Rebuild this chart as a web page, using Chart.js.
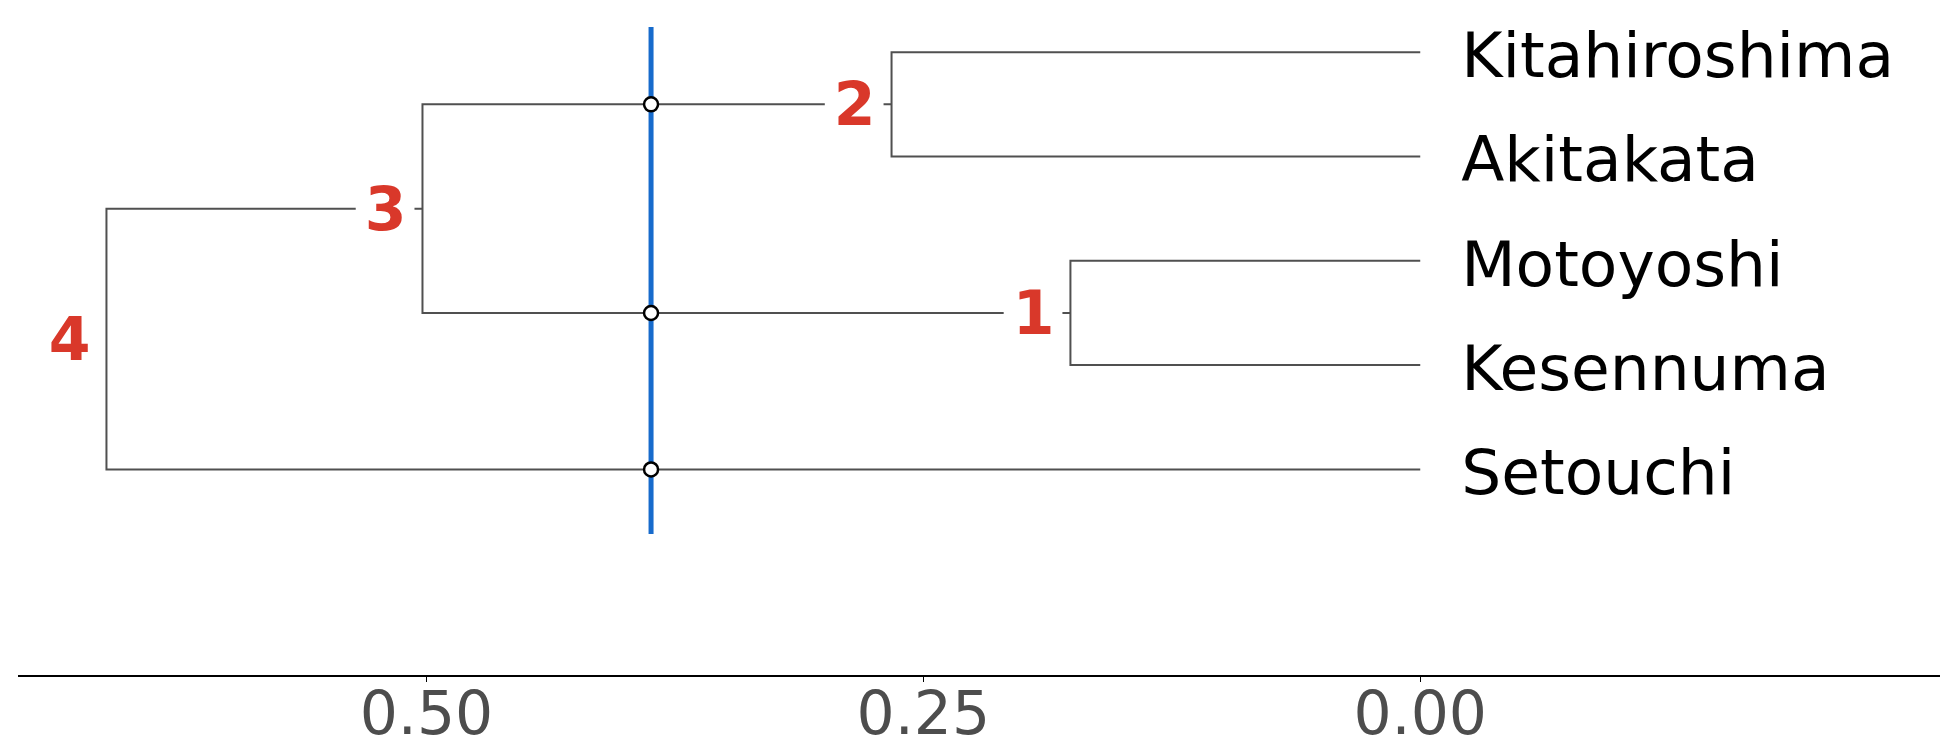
<!DOCTYPE html>
<html>
<head>
<meta charset="utf-8">
<script src="https://cdn.jsdelivr.net/npm/chart.js@4"></script>
<style>
  html, body { margin: 0; padding: 0; background: #fff; overflow: hidden; }
  #wrap { width: 1957px; height: 753px; position: relative; }
</style>
</head>
<body>
<div id="wrap"><canvas id="dendro"></canvas></div>
<script>
//================== DATA ==================//
// leaves, top to bottom
var leafNames = ["Kitahiroshima", "Akitakata", "Motoyoshi", "Kesennuma", "Setouchi"];
// merges 1..4 : node ids 0-4 are leaves, 5+ are merges in this order
var mergeLabels = ["1", "2", "3", "4"];
var mergeHeights = [0.176, 0.266, 0.502, 0.661];
var mergeChildA = [2, 0, 6, 7];
var mergeChildB = [3, 1, 5, 4];
var cutHeight = 0.387;
var cutSpan = [-0.24, 4.62];
var tickValues = [0.5, 0.25, 0.0];

//================== BUILD SEGMENTS ==================//
var nodeX = [];
var nodeY = [];
for (var i = 0; i < leafNames.length; i++) {
    nodeX.push(0);
    nodeY.push(i);
}
var lineColor = "#505050";
var datasets = [];
var cutPoints = [];
for (var k = 0; k < mergeHeights.length; k++) {
    var a = mergeChildA[k], b = mergeChildB[k], h = mergeHeights[k];
    datasets.push({
        data: [
            {x: nodeX[a], y: nodeY[a]},
            {x: h, y: nodeY[a]},
            {x: h, y: nodeY[b]},
            {x: nodeX[b], y: nodeY[b]}
        ],
        borderColor: lineColor,
        borderWidth: 2,
        pointRadius: 0,
        showLine: true,
        fill: false,
        order: 3
    });
    // where the cut line crosses a branch
    [a, b].forEach(function(c){
        if (nodeX[c] < cutHeight && h > cutHeight) cutPoints.push({x: cutHeight, y: nodeY[c]});
    });
    nodeX.push(h);
    nodeY.push((nodeY[a] + nodeY[b]) / 2);
}

datasets.push({
    data: [{x: cutHeight, y: cutSpan[0]}, {x: cutHeight, y: cutSpan[1]}],
    borderColor: "#176bcc",
    borderWidth: 5,
    pointRadius: 0,
    showLine: true,
    fill: false,
    order: 2
});
datasets.push({
    data: cutPoints,
    showLine: false,
    pointRadius: 7,
    pointBackgroundColor: "#ffffff",
    pointBorderColor: "#000000",
    pointBorderWidth: 2.5,
    order: 1
});

//================== LABEL PLUGIN ==================//
var labelPlugin = {
    id: "dendroLabels",
    afterDraw: function(chart){
        var ctx = chart.ctx;
        var xs = chart.scales.x, ys = chart.scales.y;
        ctx.save();
        // leaf names
        ctx.font = "63px 'DejaVu Sans'";
        ctx.fillStyle = "#000";
        ctx.textAlign = "left";
        ctx.textBaseline = "alphabetic";
        for (var i = 0; i < leafNames.length; i++) {
            ctx.fillText(leafNames[i], xs.getPixelForValue(0) + 41, ys.getPixelForValue(i) + 25);
        }
        // merge numbers
        ctx.font = "bold 60px 'DejaVu Sans'";
        for (var k = 0; k < mergeHeights.length; k++) {
            var px = xs.getPixelForValue(mergeHeights[k]);
            var py = ys.getPixelForValue(nodeY[leafNames.length + k]);
            var w = ctx.measureText(mergeLabels[k]).width;
            ctx.fillStyle = "#fff";
            ctx.fillRect(px - 16 - w - 9, py - 20, w + 17, 40);
            ctx.fillStyle = "#d9382a";
            ctx.textAlign = "right";
            ctx.fillText(mergeLabels[k], px - 16, py + 21);
        }
        ctx.restore();
    }
};

//================== CHART ==================//
new Chart("dendro", {
    type: "scatter",
    data: { datasets: datasets },
    options: {
        responsive: true,
        maintainAspectRatio: false,
        animation: false,
        layout: { autoPadding: false, padding: { top: 0, left: 19, right: 18, bottom: 0 } },
        plugins: { legend: { display: false }, tooltip: { enabled: false } },
        scales: {
            x: {
                type: "linear",
                reverse: true,
                min: -0.261,
                max: 0.705,
                afterBuildTicks: function(scale){
                    scale.ticks = tickValues.map(function(v){ return {value: v}; });
                },
                afterFit: function(scale){ scale.height = 77; },
                grid: { drawOnChartArea: false, drawTicks: true, tickLength: 6, color: "#000", tickWidth: 1 },
                border: { display: true, color: "#000", width: 2 },
                ticks: {
                    padding: 0,
                    color: "#4d4d4d",
                    font: { family: "'DejaVu Sans'", size: 60 },
                    callback: function(v){ return Number(v).toFixed(2); }
                }
            },
            y: {
                type: "linear",
                display: false,
                reverse: true,
                min: -0.5,
                max: 5.98
            }
        }
    },
    plugins: [labelPlugin]
});
</script>
</body>
</html>
